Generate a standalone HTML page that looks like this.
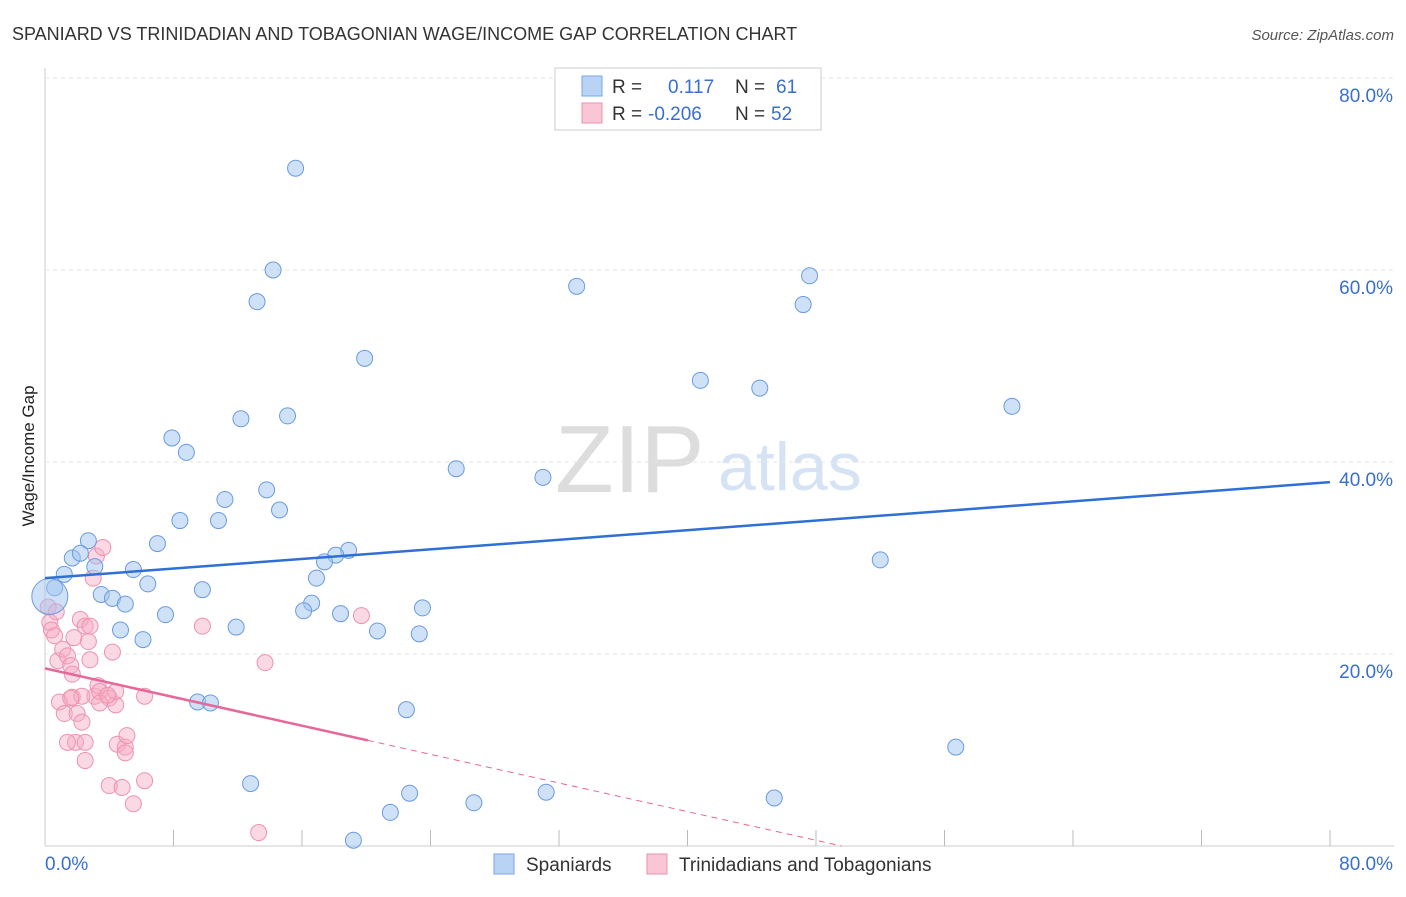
<!DOCTYPE html>
<html><head><meta charset="utf-8"><style>
body{margin:0;background:#fff;font-family:"Liberation Sans",sans-serif}
svg text{font-family:"Liberation Sans",sans-serif}
</style></head><body>
<svg id="c" width="1406" height="892">
<text x="12" y="40" font-size="18" fill="#333">SPANIARD VS TRINIDADIAN AND TOBAGONIAN WAGE/INCOME GAP CORRELATION CHART</text>
<text x="1394" y="40" font-size="15" fill="#555" font-style="italic" text-anchor="end">Source: ZipAtlas.com</text>
<text x="34" y="456" font-size="17" fill="#222" text-anchor="middle" transform="rotate(-90 34 456)">Wage/Income Gap</text>
<text x="555" y="492" font-size="96" fill="#ddd" font-family="Liberation Serif">ZIP</text>
<text x="718" y="490" font-size="68" fill="#d5e3f5">atlas</text>
<g id="grid"></g><g id="marks"></g>
<g>
<rect x="555" y="68" width="266" height="62" fill="#fff" stroke="#ccc"/>
<rect x="582" y="76" width="20" height="20" fill="#b9d3f5" stroke="#7aa6e8"/>
<rect x="582" y="103" width="20" height="20" fill="#f9c6d5" stroke="#ee92ae"/>
<text x="612" y="93" font-size="19" fill="#333">R = </text><text x="668" y="93" font-size="19" fill="#3a6fd0">0.117</text>
<text x="735" y="93" font-size="19" fill="#333">N = </text><text x="776" y="93" font-size="19" fill="#3a6fd0">61</text>
<text x="612" y="120" font-size="19" fill="#333">R = </text><text x="648" y="120" font-size="19" fill="#3a6fd0">-0.206</text>
<text x="735" y="120" font-size="19" fill="#333">N = </text><text x="771" y="120" font-size="19" fill="#3a6fd0">52</text>
</g>
<g>
<rect x="494" y="854" width="20" height="20" fill="#b9d3f5" stroke="#7aa6e8"/>
<text x="526" y="871" font-size="19" fill="#333">Spaniards</text>
<rect x="647" y="854" width="20" height="20" fill="#f9c6d5" stroke="#ee92ae"/>
<text x="679" y="871" font-size="19" fill="#333">Trinidadians and Tobagonians</text>
</g>
</svg>
<script>
const yTicks=[20,40,60,80];
const xTickLabels=["0.0%","80.0%"];
const blueX=[15.6,14.2,13.2,33.1,47.6,47.2,19.9,40.8,44.5,60.2,12.2,15.1,7.9,8.8,25.6,31.0,13.8,11.2,14.6,8.4,10.8,2.7,7.0,1.7,2.2,18.9,18.1,17.4,3.1,1.2,16.9,5.5,6.4,52.0,0.6,3.5,4.2,5.0,9.8,16.6,16.1,23.5,18.4,7.5,11.9,20.7,4.7,23.3,6.1,9.5,10.3,22.5,56.7,12.8,22.7,31.2,26.7,45.4,21.5,19.2,0.3];
const blueY=[70.6,60.0,56.7,58.3,59.4,56.4,50.8,48.5,47.7,45.8,44.5,44.8,42.5,41.0,39.3,38.4,37.1,36.1,35.0,33.9,33.9,31.8,31.5,30.0,30.5,30.8,30.3,29.6,29.1,28.3,27.9,28.8,27.3,29.8,26.9,26.2,25.8,25.2,26.7,25.3,24.5,24.8,24.2,24.1,22.8,22.4,22.5,22.1,21.5,15.0,14.9,14.2,10.3,6.5,5.5,5.6,4.5,5.0,3.5,0.6,26.0];
const pinkX=[0.2,0.3,0.4,0.6,0.8,1.1,1.4,1.6,1.7,1.8,2.2,2.5,2.7,2.8,3.0,3.2,3.6,0.9,1.2,1.7,1.9,2.0,2.3,2.5,3.1,3.3,3.4,4.0,4.2,4.4,4.5,5.0,5.1,5.0,6.2,6.2,4.0,4.8,5.5,9.8,13.7,19.7,13.3,1.4,2.3,0.7,1.6,3.4,4.4,2.5,3.9,2.8];
const pinkY=[24.9,23.3,22.5,21.9,19.3,20.5,19.8,18.8,17.9,21.7,23.6,22.9,21.3,19.4,27.9,30.2,31.1,15.0,13.8,15.5,10.8,13.8,12.9,8.9,15.6,16.7,16.1,15.4,20.2,14.7,10.6,10.3,11.5,9.7,15.6,6.8,6.3,6.1,4.4,22.9,19.1,24.0,1.4,10.8,15.6,24.4,15.4,14.9,16.1,10.8,15.7,22.9];
const blueLine=[27.9,37.9], pinkLine=[18.5,-0.373];
const X=v=>45+v*1285/80, Y=v=>846-v*9.6;
const NS="http://www.w3.org/2000/svg";
function mk(t,a,p){const e=document.createElementNS(NS,t);for(const k in a)e.setAttribute(k,a[k]);p.appendChild(e);return e;}
const g=document.getElementById('grid'), m=document.getElementById('marks');
let l=mk('line',{x1:45,y1:846,x2:1394,y2:846,stroke:'#ccc'},g);


l=mk('line',{x1:45,y1:68,x2:45,y2:846,stroke:'#ccc'},g);


for(let i=1;i<=10;i++){const t=mk('line',{x1:X(i*8),y1:830,x2:X(i*8),y2:846,stroke:'#bbb'},g);

}
yTicks.forEach(v=>{const ln=mk('line',{x1:45,y1:Y(v),x2:1394,y2:Y(v),stroke:'#e4e4e4','stroke-dasharray':'4,4'},g);


const t=mk('text',{x:1393,y:Y(v)+24,'font-size':19,fill:'#3a6fd0','text-anchor':'end'},g);t.textContent=v.toFixed(1)+'%';

});
xTickLabels.forEach((s,i)=>{const t=mk('text',{x:i?1393:45,y:870,'font-size':19,fill:'#3a6fd0','text-anchor':i?'end':'start'},g);t.textContent=s;

});
pinkX.forEach((v,i)=>{const c=mk('circle',{cx:X(v),cy:Y(pinkY[i]),r:8,fill:'rgba(246,170,195,0.45)',stroke:'#ee92ae','stroke-width':1},m);

});
blueX.forEach((v,i)=>{const c=mk('circle',{cx:X(v),cy:Y(blueY[i]),r:i==blueX.length-1?18:8,fill:'rgba(160,195,240,0.5)',stroke:'#6a9be0','stroke-width':1},m);

});
l=mk('line',{x1:X(0),y1:Y(blueLine[0]),x2:X(80),y2:Y(blueLine[1]),stroke:'#2f6fd6','stroke-width':2.5},m);


const pe=-pinkLine[0]/pinkLine[1];
l=mk('line',{x1:X(0),y1:Y(pinkLine[0]),x2:X(20.1),y2:Y(pinkLine[0]+pinkLine[1]*20.1),stroke:'#e8679a','stroke-width':2.5},m);


l=mk('line',{x1:X(20.1),y1:Y(pinkLine[0]+pinkLine[1]*20.1),x2:X(pe),y2:Y(0),stroke:'#e8679a','stroke-width':1,'stroke-dasharray':'6,5'},m);


</script>
</body></html>
